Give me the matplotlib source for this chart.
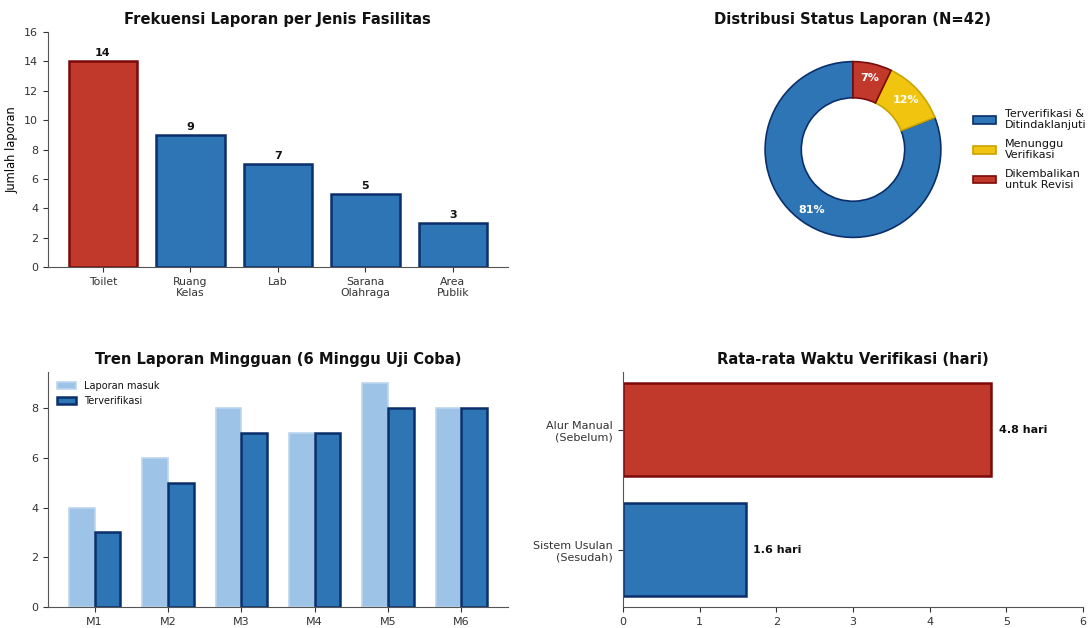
import matplotlib
matplotlib.use("Agg")
import matplotlib.pyplot as plt
import numpy as np

# data
fasilitas = ["Toilet", "Ruang\nKelas", "Lab", "Sarana\nOlahraga", "Area\nPublik"]
jumlah = [14, 9, 7, 5, 3]

status_label = ["Terverifikasi &\nDitindaklanjuti", "Menunggu\nVerifikasi", "Dikembalikan\nuntuk Revisi"]
status_nilai = [34, 5, 3]

minggu = ["M1", "M2", "M3", "M4", "M5", "M6"]
masuk = [4, 6, 8, 7, 9, 8]
terverifikasi = [3, 5, 7, 7, 8, 8]

alur = ["Sistem Usulan\n(Sesudah)", "Alur Manual\n(Sebelum)"]
waktu = [1.6, 4.8]

merah = "#C0392B"
merah_tepi = "#7B0A0A"
biru = "#2E75B6"
biru_tepi = "#0B2F6B"
biru_muda = "#9DC3E6"
kuning = "#F1C40F"
kuning_tepi = "#C9A400"

plt.rcParams["axes.edgecolor"] = "#555555"
plt.rcParams["xtick.color"] = "#333333"
plt.rcParams["ytick.color"] = "#333333"
plt.rcParams["text.color"] = "#111111"

fig, axs = plt.subplots(2, 2, figsize=(10.89, 6.28), dpi=100)
fig.subplots_adjust(left=0.044, right=0.9945, top=0.949, bottom=0.0334, hspace=0.447, wspace=0.25)

def rapikan(ax):
    ax.spines["top"].set_visible(False)
    ax.spines["right"].set_visible(False)

# 1 - frekuensi per fasilitas
ax = axs[0, 0]
warna = [merah] + [biru] * (len(jumlah) - 1)
tepi = [merah_tepi] + [biru_tepi] * (len(jumlah) - 1)
x = np.arange(len(fasilitas))
ax.bar(x, jumlah, width=0.78, color=warna, edgecolor=tepi, linewidth=1.8)
for xi, v in zip(x, jumlah):
    ax.text(xi, v + 0.2, str(v), ha="center", va="bottom", fontsize=8, fontweight="bold")
ax.set_xticks(x)
ax.set_xticklabels(fasilitas, fontsize=7.8)
ax.set_ylim(0, 16)
ax.set_yticks(range(0, 17, 2))
ax.tick_params(axis="y", labelsize=8)
ax.set_ylabel("Jumlah laporan", fontsize=8.3)
ax.set_title("Frekuensi Laporan per Jenis Fasilitas", fontsize=10.6, fontweight="bold")
rapikan(ax)

# 2 - distribusi status
ax = axs[0, 1]
wedges, texts, autotexts = ax.pie(status_nilai, colors=[biru, kuning, merah], startangle=90,
                                  radius=0.935, autopct="%1.0f%%", pctdistance=0.83,
                                  wedgeprops=dict(width=0.385, edgecolor=biru_tepi, linewidth=1.2),
                                  textprops=dict(color="white", fontsize=8, fontweight="bold"))
wedges[1].set_edgecolor(kuning_tepi)
wedges[2].set_edgecolor(merah_tepi)
ax.set_title("Distribusi Status Laporan (N=42)", fontsize=10.6, fontweight="bold")
ax.legend(wedges, status_label, loc="center left", bbox_to_anchor=(0.97, 0.5), frameon=False,
          fontsize=8, handlelength=2.0, labelspacing=0.75)
ax.set_aspect("equal")

# 3 - tren mingguan
ax = axs[1, 0]
x = np.arange(len(minggu))
w = 0.35
ax.bar(x - w / 2, masuk, width=w, color=biru_muda, edgecolor="#BCD6EE", linewidth=1.2, label="Laporan masuk")
ax.bar(x + w / 2, terverifikasi, width=w, color=biru, edgecolor=biru_tepi, linewidth=1.8, label="Terverifikasi")
ax.set_xticks(x)
ax.set_xticklabels(minggu, fontsize=8)
ax.set_yticks(range(0, 9, 2))
ax.tick_params(axis="y", labelsize=8)
ax.set_title("Tren Laporan Mingguan (6 Minggu Uji Coba)", fontsize=10.6, fontweight="bold")
ax.legend(loc="upper left", frameon=False, fontsize=7)
rapikan(ax)

# 4 - waktu verifikasi
ax = axs[1, 1]
y = np.arange(len(alur))
ax.barh(y, waktu, height=0.78, color=[biru, merah], edgecolor=[biru_tepi, merah_tepi], linewidth=1.8)
for yi, v in zip(y, waktu):
    ax.text(v + 0.1, yi, f"{v} hari", va="center", fontsize=8, fontweight="bold")
ax.set_yticks(y)
ax.set_yticklabels(alur, fontsize=8)
ax.set_xlim(0, 6)
ax.tick_params(axis="x", labelsize=8)
ax.set_title("Rata-rata Waktu Verifikasi (hari)", fontsize=10.6, fontweight="bold")
rapikan(ax)

plt.savefig("out.png", dpi=100)
